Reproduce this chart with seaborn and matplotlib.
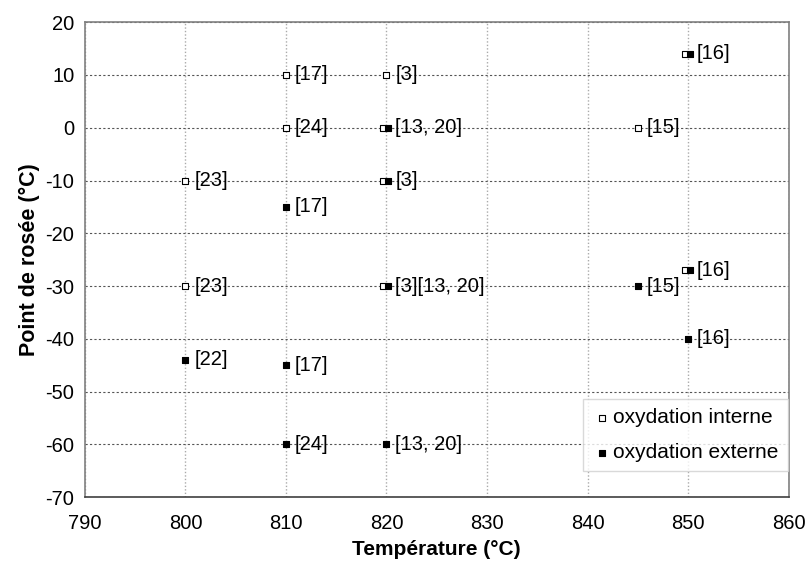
import matplotlib
matplotlib.use("Agg")
import matplotlib.pyplot as plt
import seaborn as sns
import pandas as pd

# oxydation interne (carrés vides)
int_temp = [810, 820, 810, 819.7, 845, 800, 819.7, 800, 819.7, 849.7, 849.7]
int_dew = [10, 10, 0, 0, 0, -10, -10, -30, -30, 14, -27]

# oxydation externe (carrés pleins)
ext_temp = [820.2, 820.2, 810, 820.2, 845, 850.2, 850.2, 850, 800, 810, 810, 820]
ext_dew = [0, -10, -15, -30, -30, 14, -27, -40, -44, -45, -60, -60]

# références
lab_temp = [810, 820, 810, 820, 845, 800, 820, 800, 820, 850, 850,
            810, 845, 850, 800, 810, 810, 820]
lab_dew = [10, 10, 0, 0, 0, -10, -10, -30, -30, 14, -27,
           -15, -30, -40, -44, -45, -60, -60]
lab_text = ["[17]", "[3]", "[24]", "[13, 20]", "[15]", "[23]", "[3]", "[23]",
            "[3][13, 20]", "[16]", "[16]",
            "[17]", "[15]", "[16]", "[22]", "[17]", "[24]", "[13, 20]"]

df_int = pd.DataFrame({"temp": int_temp, "dew": int_dew})
df_ext = pd.DataFrame({"temp": ext_temp, "dew": ext_dew})

sns.set_style("white")
plt.rcParams["font.family"] = ["Liberation Sans", "DejaVu Sans"]
plt.rcParams["axes.unicode_minus"] = False
plt.rcParams["text.color"] = "black"
plt.rcParams["axes.labelcolor"] = "black"

fig = plt.figure(figsize=(8.08, 5.70), dpi=100)
ax = fig.add_axes([0.105, 0.128, 0.871, 0.833])

sns.scatterplot(data=df_int, x="temp", y="dew", marker="s", s=22,
                facecolor="white", edgecolor="black", linewidth=0.8,
                label="oxydation interne", ax=ax, zorder=3)
sns.scatterplot(data=df_ext, x="temp", y="dew", marker="s", s=22,
                color="black", edgecolor="black", linewidth=0.8,
                label="oxydation externe", ax=ax, zorder=4)

for t, d, s in zip(lab_temp, lab_dew, lab_text):
    ax.annotate(s, (t, d), xytext=(6.5, 0), textcoords="offset points",
                ha="left", va="center", fontsize=14.5, color="black", zorder=5)

ax.set_xlim(790, 860)
ax.set_ylim(-70, 20)
ax.set_xticks(range(790, 861, 10))
ax.set_yticks(range(-70, 21, 10))
ax.tick_params(axis="both", labelsize=14.5, direction="out", length=4.5,
               color="#808080", labelcolor="black", width=1, pad=3)
ax.tick_params(axis="x", pad=8)

ax.grid(True, axis="y", linestyle=(0, (2, 2)), color="#555555", linewidth=0.8)
ax.grid(True, axis="x", linestyle=(0, (1, 1.5)), color="#aaaaaa", linewidth=1)
ax.set_axisbelow(True)
for side in ["left", "top", "right"]:
    ax.spines[side].set_color("#808080")
    ax.spines[side].set_linewidth(1.2)
ax.spines["bottom"].set_color("#404040")
ax.spines["bottom"].set_linewidth(1.2)

ax.set_xlabel("Température (°C)", fontsize=15, fontweight="bold", labelpad=5)
ax.set_ylabel("Point de rosée (°C)", fontsize=15.5, fontweight="bold", labelpad=4)

leg = ax.legend(loc="lower right", bbox_to_anchor=(0.999, 0.054), fontsize=15,
                frameon=True, fancybox=False, handletextpad=0.1,
                borderpad=0.45, labelspacing=0.75, markerscale=1.0,
                handlelength=0.9, borderaxespad=0)
leg.get_frame().set_edgecolor("#d0d0d0")
leg.get_frame().set_linewidth(1)

fig.savefig("out.png", dpi=100)
